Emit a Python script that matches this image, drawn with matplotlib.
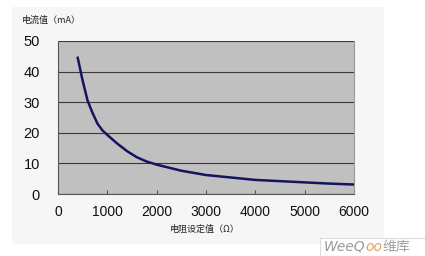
import matplotlib.pyplot as plt
from matplotlib.patches import Rectangle

plt.rcParams['font.family'] = ['Liberation Sans', 'Noto Sans CJK SC']

# resistance setting (ohm) vs current (mA)
resistance = [400, 500, 600, 700, 800, 900, 1000, 1200, 1400, 1600, 1800, 2000,
              2500, 3000, 3500, 4000, 4500, 5000, 5500, 6000]
current = [44.5, 37.0, 30.5, 26.5, 23.0, 20.8, 19.3, 16.5, 14.0, 12.0, 10.6, 9.6,
           7.6, 6.2, 5.4, 4.6, 4.2, 3.8, 3.4, 3.1]

W, H = 425, 256
fig = plt.figure(figsize=(W / 100, H / 100), dpi=100)
fig.patch.set_facecolor('white')
fig.patches.append(Rectangle((12 / W, 1 - 244 / H), 372 / W, 237 / H,
                             transform=fig.transFigure, facecolor='#f6f6f6',
                             edgecolor='none', zorder=-5))

ax = fig.add_axes([58 / W, 1 - 194 / H, 296 / W, 153 / H])
ax.set_zorder(2)
ax.set_facecolor('#c0c0c0')
ax.plot(resistance, current, color='#14145e', lw=1.8, zorder=3)

ax.set_xlim(0, 6000)
ax.set_ylim(0, 50)
ax.set_xticks(range(0, 6001, 1000))
ax.set_yticks(range(0, 51, 10))
ax.yaxis.grid(True, color='#3a3a3a', lw=0.8)
ax.set_axisbelow(True)

ax.spines['top'].set_visible(False)
ax.spines['right'].set_color('#9a9a9a')
ax.spines['left'].set_color('#555555')
ax.spines['bottom'].set_color('#555555')

ax.tick_params(axis='x', direction='in', length=3, color='#555555',
               labelsize=10, pad=8, labelcolor='#111111')
ax.tick_params(axis='y', length=0, labelsize=10.5, pad=13, labelcolor='#111111')

cjk = ['Noto Sans CJK SC', 'DejaVu Sans']
fig.text(22 / W, 1 - 20 / H, '电流值（mA）', fontsize=6.5, family=cjk,
         va='center', ha='left', color='#222222')
fig.text(205 / W, 1 - 229 / H, '电阻设定值（Ω）', fontsize=6.5, family=cjk,
         va='center', ha='center', color='#222222')

# watermark
fig.patches.append(Rectangle((320 / W, 1 - 256 / H), 105 / W, 18 / H,
                             transform=fig.transFigure, facecolor='white',
                             edgecolor='#dddddd', lw=0.8, zorder=1))
r = fig.canvas.get_renderer()
x = 324
for s, c, kw in [('WeeQ', '#9a9a9a', {'style': 'italic', 'family': 'DejaVu Sans'}),
                 ('oo', '#e8a060', {'style': 'italic', 'family': 'DejaVu Sans'}),
                 ('维库', '#a0a0a0', {'family': cjk})]:
    t = fig.text(x / W, 1 - 247 / H, s, fontsize=10, color=c, va='center', **kw)
    x += t.get_window_extent(r).width

fig.savefig('out.png', dpi=100)
